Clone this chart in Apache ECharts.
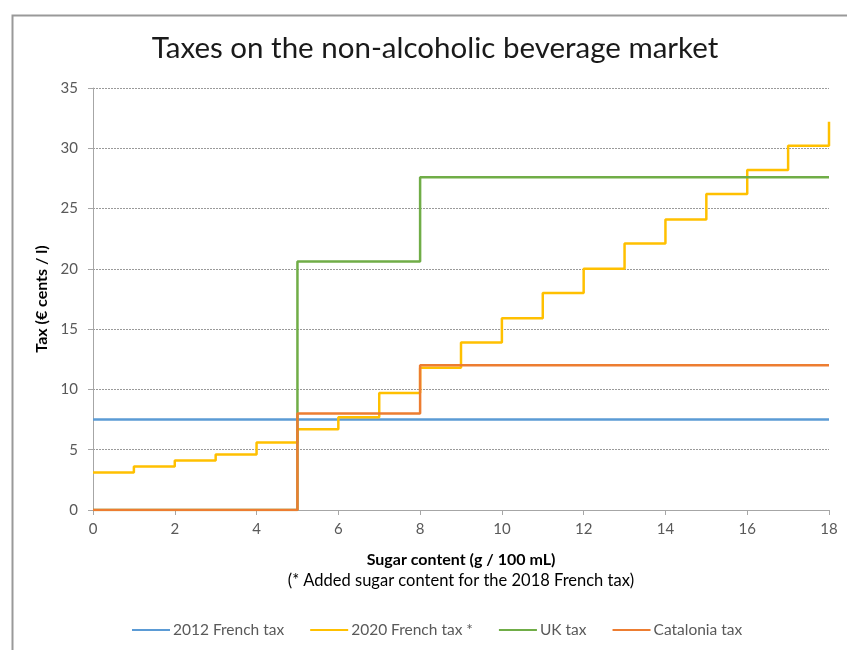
<!DOCTYPE html>
<html>
<head>
<meta charset="utf-8">
<script src="https://cdn.jsdelivr.net/npm/echarts@6/dist/echarts.min.js"></script>
<style>
  html, body { margin: 0; padding: 0; background: #fff; }
  #chart { width: 847px; height: 650px; }
</style>
</head>
<body>
<div id="chart"></div>
<script>
// Sugar content break points (g / 100 mL) and tax levels (€ cents / l)
const xTicks = [0, 2, 4, 6, 8, 10, 12, 14, 16, 18];
const yTicks = [0, 5, 10, 15, 20, 25, 30, 35];

const french2012X = [0, 18];
const french2012Y = [7.5, 7.5];

const french2020X = [0, 1, 2, 3, 4, 5, 6, 7, 8, 9, 10, 11, 12, 13, 14, 15, 16, 17, 18];
const french2020Y = [3.1, 3.6, 4.1, 4.6, 5.6, 6.7, 7.7, 9.7, 11.8, 13.9, 15.9, 18.0, 20.0, 22.1, 24.1, 26.2, 28.2, 30.2, 32.2];

const ukX = [0, 5, 8, 18];
const ukY = [0, 20.6, 27.6, 27.6];

const cataloniaX = [0, 5, 8, 18];
const cataloniaY = [0, 8, 12, 12];

const seriesNames = ['2012 French tax', '2020 French tax *', 'UK tax', 'Catalonia tax'];
const seriesColors = ['#5B9BD5', '#FFC000', '#70AD47', '#ED7D31'];

const pairs = (xs, ys) => xs.map((x, i) => [x, ys[i]]);
const seriesData = [
  pairs(french2012X, french2012Y),
  pairs(french2020X, french2020Y),
  pairs(ukX, ukY),
  pairs(cataloniaX, cataloniaY)
];

const FONT = 'Lato';
const chart = echarts.init(document.getElementById('chart'));

chart.setOption({
  animation: false,
  backgroundColor: '#ffffff',
  textStyle: { fontFamily: FONT },
  title: {
    text: 'Taxes on the non-alcoholic beverage market',
    left: 430,
    top: 28,
    textAlign: 'center',
    textStyle: { fontFamily: FONT, fontSize: 29.5, fontWeight: 'normal', color: '#1a1a1a' }
  },
  graphic: [{
    type: 'rect',
    left: 10,
    top: 13,
    shape: { width: 900, height: 700 },
    style: { fill: 'none', stroke: '#999999', lineWidth: 2 },
    silent: true
  }],
  grid: { left: 93, right: 18, top: 88, bottom: 140, containLabel: false },
  xAxis: {
    type: 'value',
    min: xTicks[0],
    max: xTicks[xTicks.length - 1],
    interval: 2,
    name: '{b|Sugar content (g / 100 mL)}\n{n|(* Added sugar content for the 2018 French tax)}',
    nameLocation: 'middle',
    nameGap: 40,
    nameTextStyle: {
      rich: {
        b: { fontFamily: FONT, fontSize: 16, fontWeight: 'bold', color: '#000', lineHeight: 20 },
        n: { fontFamily: FONT, fontSize: 16.5, color: '#000', lineHeight: 21 }
      }
    },
    axisLine: { show: true, lineStyle: { color: '#a6a6a6', width: 1 } },
    axisTick: { show: true, length: 5, lineStyle: { color: '#a6a6a6' } },
    axisLabel: { fontFamily: FONT, fontSize: 15, color: '#595959', margin: 12 },
    splitLine: { show: false }
  },
  yAxis: {
    type: 'value',
    min: yTicks[0],
    max: yTicks[yTicks.length - 1],
    interval: 5,
    name: 'Tax (€ cents / l)',
    nameLocation: 'middle',
    nameGap: 43,
    nameTextStyle: { fontFamily: FONT, fontSize: 16, fontWeight: 'bold', color: '#000' },
    axisLine: { show: true, lineStyle: { color: '#a6a6a6', width: 1 } },
    axisTick: { show: true, inside: false, length: 5, lineStyle: { color: '#a6a6a6' } },
    axisLabel: { fontFamily: FONT, fontSize: 15, color: '#595959', margin: 15 },
    splitLine: { show: true, lineStyle: { color: '#9a9a9a', width: 1, type: [2, 1] } }
  },
  legend: {
    bottom: 7,
    left: 127,
    icon: 'rect',
    itemWidth: 38,
    itemHeight: 2,
    itemGap: 26,
    data: seriesNames,
    textStyle: { fontFamily: FONT, fontSize: 15.5, color: '#595959', padding: [0, 0, 0, -2] }
  },
  series: seriesNames.map((name, i) => ({
    name,
    type: 'line',
    step: 'end',
    data: seriesData[i],
    symbol: 'none',
    color: seriesColors[i],
    lineStyle: { width: 2.5, color: seriesColors[i] },
    itemStyle: { color: seriesColors[i] },
    clip: true,
    z: 2 + i
  }))
});
</script>
</body>
</html>
